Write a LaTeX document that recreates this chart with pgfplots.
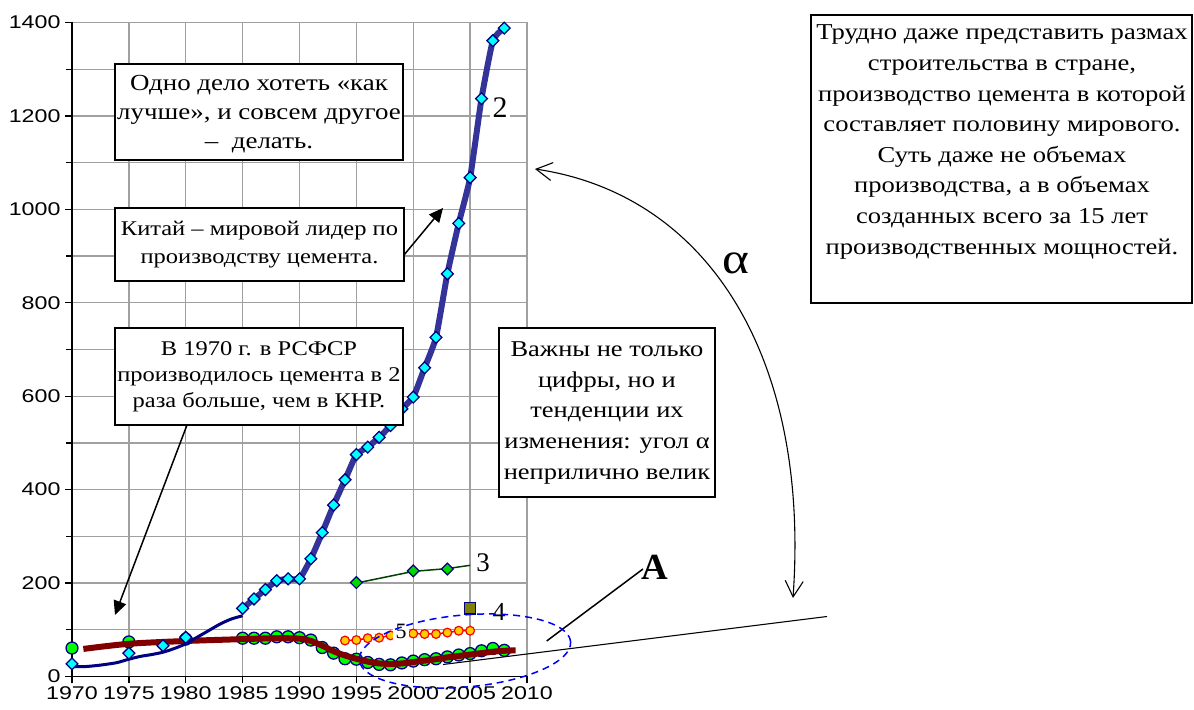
\documentclass[border=0pt]{standalone}
\usepackage{fontspec}
\setmainfont{Liberation Serif}[FakeStretch=1.17]
\setsansfont{Liberation Sans}[FakeStretch=1.26]
\newfontfamily\plainserif{Liberation Serif}
\usepackage{pgfplots}
\pgfplotsset{compat=1.18}
\usetikzlibrary{arrows.meta}
\definecolor{chinablue}{HTML}{333399}
\definecolor{navy}{HTML}{000080}
\definecolor{maroon}{HTML}{800000}
\definecolor{rusgreen}{HTML}{00FF00}
\definecolor{dkgreen}{HTML}{004000}
\definecolor{olivec}{HTML}{808000}
\definecolor{goldc}{HTML}{FFCC00}
\definecolor{gridgray}{HTML}{A0A0A0}
\definecolor{cyanc}{HTML}{00FFFF}

\begin{document}
\begin{tikzpicture}
\useasboundingbox (0,0) rectangle (1194bp,710bp);
\begin{axis}[
  at={(72bp,33.5bp)}, anchor=south west,
  width=455bp, height=654bp, scale only axis,
  xmin=1970, xmax=2010, ymin=0, ymax=1400,
  clip=false, clip marker paths=true,
  xtick={1970,1975,...,2010}, ytick={0,200,...,1400},
  minor ytick={100,300,...,1300},
  grid=both,
  grid style={draw=gridgray, line width=1.3bp},
  minor grid style={draw=gridgray, line width=1.3bp},
  major grid style={draw=gridgray, line width=1.3bp},
  axis x line*=bottom, axis y line*=left,
  axis line style={black, line width=1.5bp},
  tick align=outside, major tick length=7bp, minor tick length=6bp,
  tick style={black, line width=1.3bp},
  ticklabel style={font=\fontsize{18.5}{20}\selectfont\sffamily},
  yticklabel style={xshift=-1bp},
  /pgf/number format/assume math mode=true,
  /pgf/number format/1000 sep={},
]
% RSFSR / Russia points
\addplot[only marks, mark=*, mark size=6, mark options={fill=rusgreen, draw=navy, line width=1.3bp}] coordinates {
(1970,61)(1975,74)(1980,80)(1985,82)(1986,82)(1987,82)(1988,85)(1989,85)(1990,83)
(1991,78)(1992,62)(1993,50)(1994,38)(1995,37)(1996,30)(1997,26)(1998,25)(1999,29)
(2000,33)(2001,36)(2002,38)(2003,42)(2004,46)(2005,49)(2006,55)(2007,60)(2008,56)};
% Russia smoothed trend
\addplot[maroon, line width=6bp, smooth, no marks] coordinates {
(1971,59)(1975,70)(1980,76)(1985,80)(1988,82)(1990,81)(1991,76)(1992,66)(1993,54)
(1994,45)(1995,38)(1996,32)(1997,28)(1998,27)(1999,28)(2000,31)(2001,34)(2002,37)
(2003,41)(2004,44)(2005,47)(2006,50)(2007,53)(2008,55)(2009,56)};
% China early thin line
\addplot[navy, line width=3bp, smooth, no marks] coordinates {
(1970,21)(1971,21)(1972,23)(1973,26)(1974,30)(1975,37)(1976,43)(1977,47)(1978,52)
(1979,60)(1980,70)(1981,84)(1982,98)(1983,112)(1984,123)(1985,130)};
% China early markers
\addplot[only marks, mark=square*, mark size=4.2, mark options={rotate=45, fill=cyanc, draw=navy, line width=1.3bp}] coordinates {
(1970,27)(1975,50)(1978,66)(1980,84)};
% China thick line
\addplot[chinablue, line width=6bp, smooth, tension=0.3, mark=square*, mark size=4.2,
  mark options={rotate=45, fill=cyanc, draw=navy, line width=1.3bp}] coordinates {
(1985,146)(1986,166)(1987,186)(1988,205)(1989,209)(1990,209)(1991,252)(1992,308)
(1993,367)(1994,421)(1995,475)(1996,491)(1997,512)(1998,537)(1999,573)(2000,598)
(2001,661)(2002,726)(2003,862)(2004,970)(2005,1068)(2006,1237)(2007,1361)(2008,1388)};
% Series 3
\addplot[dkgreen, line width=1.5bp, no marks] coordinates {(1995,200)(2000,225)(2003,231)(2005,238)};
\addplot[only marks, mark=square*, mark size=4.2, mark options={rotate=45, fill=rusgreen!85!black, draw=navy, line width=1.2bp}] coordinates {
(1995,201)(2000,226)(2003,230)};
% Series 4
\addplot[only marks, mark=square*, mark size=5.6, mark options={fill=olivec, draw=navy, line width=1.3bp}] coordinates {(2005,146)};
% Series 5
\addplot[red, line width=1.5bp, mark=*, mark size=4.4, mark options={fill=goldc, draw=red, line width=1.2bp}] coordinates {
(1994,77)(1995,78)(1996,82)(1997,83)(1998,88)(1999,90)(2000,92)(2001,91)(2002,91)
(2003,94)(2004,98)(2005,98)};
\end{axis}

\begin{scope}[x=1bp,y=-1bp,shift={(0,710bp)}]
% series labels
\node[fill=white, inner sep=3bp, font=\plainserif\fontsize{30}{30}\selectfont] at (500,108) {2};
\node[fill=white, inner sep=2bp, font=\plainserif\fontsize{27}{27}\selectfont] at (483,563) {3};
\node[fill=white, inner sep=2bp, font=\plainserif\fontsize{26}{26}\selectfont] at (499,612) {4};
\node[fill=white, inner sep=2.5bp, font=\plainserif\fontsize{22}{22}\selectfont] at (401,631) {5};

% box 1
\draw[line width=1.5bp, fill=white] (115,64) rectangle (403,160);
\node[font=\fontsize{23.1}{29}\selectfont, align=center] at (259,114) {Одно дело хотеть «как\\лучше», и совсем другое\\–\ \ делать.};
% box 2
\draw[line width=1.5bp, fill=white] (115,208) rectangle (404,281);
\node[font=\fontsize{21}{28.3}\selectfont, align=center] at (259.5,245) {Китай – мировой лидер по\\производству цемента.};
\draw[line width=1.5bp, -{Triangle[length=14bp,width=13bp]}] (404,255) -- (443,208);
% box 3
\draw[line width=1.5bp, fill=white] (115,328) rectangle (403,425);
\node[font=\fontsize{21}{26.3}\selectfont, align=center] at (259,377) {В 1970 г. в РСФСР\\производилось цемента в 2\\раза больше, чем в КНР.};
\draw[line width=1.5bp, -{Triangle[length=14bp,width=13bp]}] (187,425) -- (115,615);
% box 4
\draw[line width=1.5bp, fill=white] (499,328) rectangle (715,497);
\node[font=\fontsize{22.7}{30.8}\selectfont, align=center] at (607,413) {Важны не только\\цифры, но и\\тенденции их\\изменения: угол α\\неприлично велик};
% right box
\draw[line width=1.5bp] (811,15) rectangle (1192,303);
\node[font=\fontsize{22.8}{30.7}\selectfont, align=center] at (1002,142) {Трудно даже представить размах\\строительства в стране,\\производство цемента в которой\\составляет половину мирового.\\Суть даже не объемах\\производства, а в объемах\\созданных всего за 15 лет\\производственных мощностей.};

% alpha and A
\node[font=\fontsize{44}{44}\selectfont] at (736,263) {α};
\node[font=\plainserif\bfseries\fontsize{37}{37}\selectfont] at (655,567) {A};

% lines
\draw[line width=1.5bp] (643,569) -- (546.7,641);
\draw[line width=1.1bp] (443,664.5) -- (827,616.5);
\draw[blue, dash pattern=on 7bp off 5bp, line width=1.5bp, rotate around={5:(465,651)}] (465,651) ellipse [x radius=106bp, y radius=36bp];
\draw[line width=1.1bp, {Straight Barb[length=16bp,width=18bp]}-{Straight Barb[length=16bp,width=18bp]}] (535,169) .. controls (710,195) and (810,360) .. (793,598);
\end{scope}
\end{tikzpicture}
\end{document}
